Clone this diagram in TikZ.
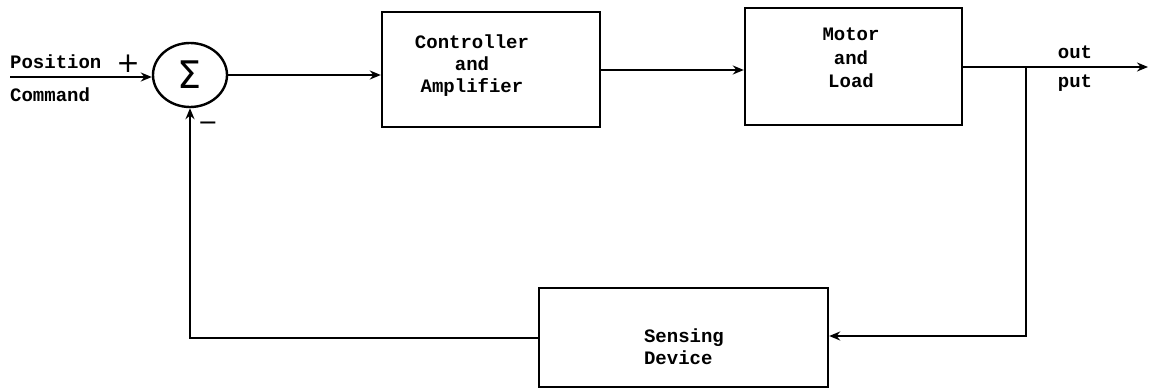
\documentclass[tikz,border=0pt]{standalone}
\usepackage{fontspec}
\newfontfamily\tw{Liberation Mono}
\newfontfamily\sym{DejaVu Sans}
\usetikzlibrary{shapes.geometric,arrows.meta}
\begin{document}
\begin{tikzpicture}[x=1pt,y=-1pt,
  line width=2.4pt,
  arr/.style={-{Stealth[length=11pt,width=9pt]}},
  blk/.style={draw,rectangle,inner sep=0pt},
  txt/.style={font=\tw\bfseries\fontsize{19}{22}\selectfont,align=center,inner sep=0pt},
  lbl/.style={font=\tw\bfseries\fontsize{19}{22}\selectfont,inner sep=0pt},
  sy/.style={font=\sym\fontsize{28}{28}\selectfont,inner sep=0pt}]
\useasboundingbox (0,0) rectangle (1152,390);
% blocks
\node[draw,ellipse,minimum width=74pt,minimum height=64pt,inner sep=0pt,font=\sym\fontsize{38}{38}\selectfont] (sum) at (190,75) {Σ};
\node[blk,minimum width=218pt,minimum height=115pt] (ctrl) at (491,69.5) {};
\node[txt] (ctrltext) at (472,66) {Controller\\and\\Amplifier};
\node[blk,minimum width=217pt,minimum height=117pt] (motor) at (853.5,66.5) {};
\node[txt,font=\tw\bfseries\fontsize{19}{23.5}\selectfont] (motortext) at (851,58) {Motor\\and\\Load};
\node[blk,minimum width=289pt,minimum height=99pt] (sens) at (683.5,337.5) {};
\node[txt,align=left] (senstext) at (684,347) {Sensing\\Device};
% labels
\node[lbl,anchor=west] (pos) at (9,62) {Position};
\node[lbl,anchor=west] (cmd) at (9,95) {Command};
\node[sy] (plus) at (128,64) {+};
\node[sy,font=\sym\fontsize{24}{24}\selectfont] (minus) at (208,126) {−};
\node[lbl] (outl) at (1075,52) {out};
\node[lbl] (putl) at (1075,83) {put};
% coordinates
\coordinate (in) at (10,77);
\coordinate (outend) at (1148,67);
\coordinate (br) at (1026,67);
\coordinate (brd) at (1026,336);
\coordinate (fbc) at (190,338);
% connectors
\draw[arr] (in) -- (sum.west |- in);
\draw[arr] (sum.east) -- (sum.east -| ctrl.west);
\draw[arr] (ctrl.east |- 0,70) -- (motor.west |- 0,70);
\draw[arr] (motor.east |- outend) -- (outend);
\draw[arr] (br) -- (brd) -- (sens.east |- brd);
\draw[arr] (sens.west |- fbc) -- (fbc) -- (sum.south);
\end{tikzpicture}
\end{document}
